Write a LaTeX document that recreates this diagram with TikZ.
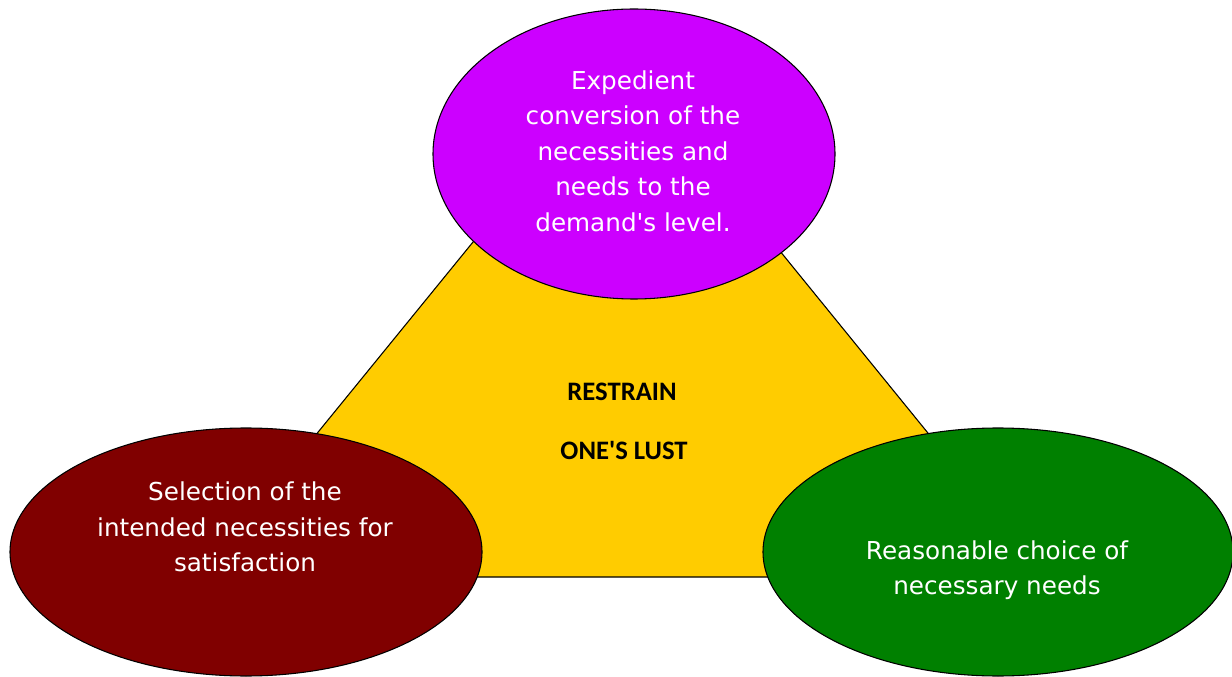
\documentclass[tikz,border=0pt]{standalone}
\usepackage{fontspec}
\setmainfont{DejaVu Sans}
\newfontfamily\centrefont{Carlito}
\usetikzlibrary{shapes.geometric}
\definecolor{tri}{RGB}{255,204,0}
\definecolor{violet1}{RGB}{204,0,255}
\definecolor{maroon1}{RGB}{128,0,0}
\definecolor{green1}{RGB}{0,128,0}
\tikzset{
  bubble/.style={ellipse, draw=black, line width=0.8pt, inner sep=0pt},
  bubbletext/.style={text=white, align=center, font=\fontsize{18.5}{26.6}\selectfont},
  centretext/.style={text=black, font=\centrefont\bfseries\fontsize{20}{24}\selectfont}
}
\begin{document}
\begin{tikzpicture}[x=0.75pt,y=-0.75pt]
\useasboundingbox (0,0) rectangle (1232,677);
\coordinate (apex) at (623,58);
\coordinate (bl) at (200,577);
\coordinate (br) at (1045,577);
\fill[tri] (apex) -- (bl) -- (br) -- cycle;
\draw[black, line width=0.8pt] (apex) -- (bl) -- (br) -- cycle;
\node[centretext] (t1) at (622,392) {RESTRAIN};
\node[centretext] (t2) at (624,450) {ONE\textquotesingle S LUST};
\node[bubble, fill=violet1, minimum width=301.5pt, minimum height=217.5pt] (top) at (634,154) {};
\node[bubble, fill=maroon1, minimum width=354pt, minimum height=186pt] (left) at (246,552) {};
\node[bubble, fill=green1, minimum width=352.5pt, minimum height=186pt] (right) at (998,552) {};
\node[bubbletext] (toptext) at (633,151) {Expedient\\conversion of the\\necessities and\\needs to the\\demand\textquotesingle s level.};
\node[bubbletext] (lefttext) at (245,527) {Selection of the\\intended necessities for\\satisfaction};
\node[bubbletext] (righttext) at (997,570) {Reasonable choice of\\necessary needs};
\end{tikzpicture}
\end{document}
